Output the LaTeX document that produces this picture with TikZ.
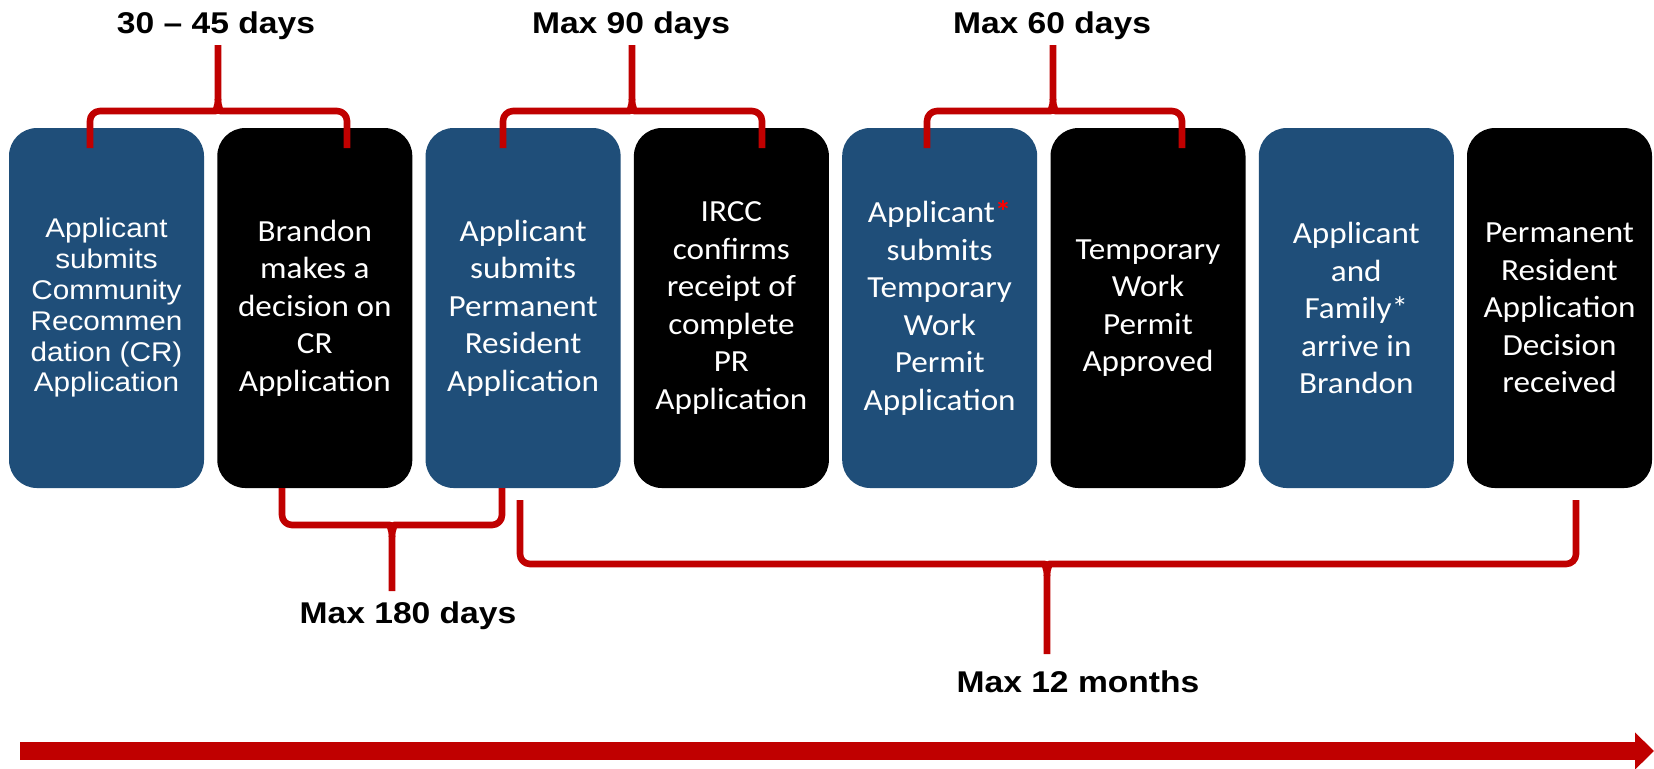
\documentclass[tikz,border=0pt]{standalone}
\usepackage{fontspec}
\usetikzlibrary{arrows.meta,calc}
\newfontfamily\calfont[FakeStretch=1.08]{Carlito}
\newfontfamily\arfont[FakeStretch=1.1]{Liberation Sans}
\newfontfamily\lblfont[FakeStretch=1.12]{Liberation Sans}
\definecolor{boxblue}{HTML}{1F4E79}
\definecolor{bracered}{HTML}{C00000}
\tikzset{
  stepbox/.style={rounded corners=14pt, minimum width=97.5pt, minimum height=180pt,
    inner sep=0pt, align=center, text=white,
    font=\calfont\fontsize{15.35pt}{18.75pt}\selectfont},
  bluebox/.style={stepbox, fill=boxblue},
  blackbox/.style={stepbox, fill=black},
  lbl/.style={anchor=base, inner sep=0pt,
    font=\lblfont\bfseries\fontsize{15pt}{18pt}\selectfont},
  brace/.style={draw=bracered, line width=3.3pt, line join=round},
  timearrow/.style={draw=bracered, line width=9pt, -{Triangle[length=9.5pt,width=18pt]}}
}
% #1 left end, #2 right end, #3 cusp point, #4 stem end, #5 direction (1 up, -1 down)
\newcommand\mybrace[5]{%
  \draw[brace] (#1) [rounded corners=5pt] |- ($(#3)+(-12,0)$) [sharp corners]
    .. controls ($(#3)+(-4,0)$) and ($(#3)+(0,#5*-2)$) .. ($(#3)+(0,#5*-12)$) -- (#4);
  \draw[brace] (#2) [rounded corners=5pt] |- ($(#3)+(12,0)$) [sharp corners]
    .. controls ($(#3)+(4,0)$) and ($(#3)+(0,#5*-2)$) .. ($(#3)+(0,#5*-12)$);
}
\begin{document}
\begin{tikzpicture}[x=0.5pt,y=-0.5pt]
\fill[white] (0,0) rectangle (1654,768);
\useasboundingbox (0,0) rectangle (1654,768);

% boxes
\node[bluebox, font=\arfont\fontsize{13.5pt}{15.4pt}\selectfont] (b1) at (106.5,308)
  {Applicant\\submits\\Community\\Recommen\\dation (CR)\\Application};
\node[blackbox] (b2) at (314.8,308) {Brandon\\makes a\\decision on\\CR\\Application};
\node[bluebox] (b3) at (523.1,308) {Applicant\\submits\\Permanent\\Resident\\Application};
\node[blackbox] (b4) at (731.4,308) {IRCC\\confirms\\receipt of\\complete\\PR\\Application};
\node[bluebox] (b5) at (939.7,308) {Applicant\textcolor{red}{\bfseries*}\\submits\\Temporary\\Work\\Permit\\Application};
\node[blackbox] (b6) at (1148,308) {Temporary\\Work\\Permit\\Approved};
\node[bluebox] (b7) at (1356.3,308) {Applicant\\and\\Family*\\arrive in\\Brandon};
\node[blackbox, minimum width=92.5pt] (b8) at (1559.5,308) {Permanent\\Resident\\Application\\Decision\\received};

% labels
\node[lbl] (l1) at (216,33) {30 \textendash{} 45 days};
\node[lbl] (l2) at (631,33) {Max 90 days};
\node[lbl] (l3) at (1052,33) {Max 60 days};
\node[lbl] (l4) at (408,623) {Max 180 days};
\node[lbl] (l5) at (1078,692) {Max 12 months};

% brace coordinates
\coordinate (t1L) at (90,148);   \coordinate (t1R) at (347,148);
\coordinate (t1M) at (218,111);  \coordinate (t1S) at (218,45);
\coordinate (t2L) at (503,148);  \coordinate (t2R) at (762,148);
\coordinate (t2M) at (632,111);  \coordinate (t2S) at (632,45);
\coordinate (t3L) at (927,148);  \coordinate (t3R) at (1182,148);
\coordinate (t3M) at (1053,111); \coordinate (t3S) at (1053,45);
\coordinate (u1L) at (282,488);  \coordinate (u1R) at (502,488);
\coordinate (u1M) at (392,525);  \coordinate (u1S) at (392,591);
\coordinate (u2L) at (520,500);  \coordinate (u2R) at (1576,500);
\coordinate (u2M) at (1047,564); \coordinate (u2S) at (1047,654);

\mybrace{t1L}{t1R}{t1M}{t1S}{1}
\mybrace{t2L}{t2R}{t2M}{t2S}{1}
\mybrace{t3L}{t3R}{t3M}{t3S}{1}
\mybrace{u1L}{u1R}{u1M}{u1S}{-1}
\mybrace{u2L}{u2R}{u2M}{u2S}{-1}

% timeline arrow
\coordinate (a0) at (20,751);
\coordinate (a1) at (1654,751);
\draw[timearrow] (a0) -- (a1);
\end{tikzpicture}
\end{document}
